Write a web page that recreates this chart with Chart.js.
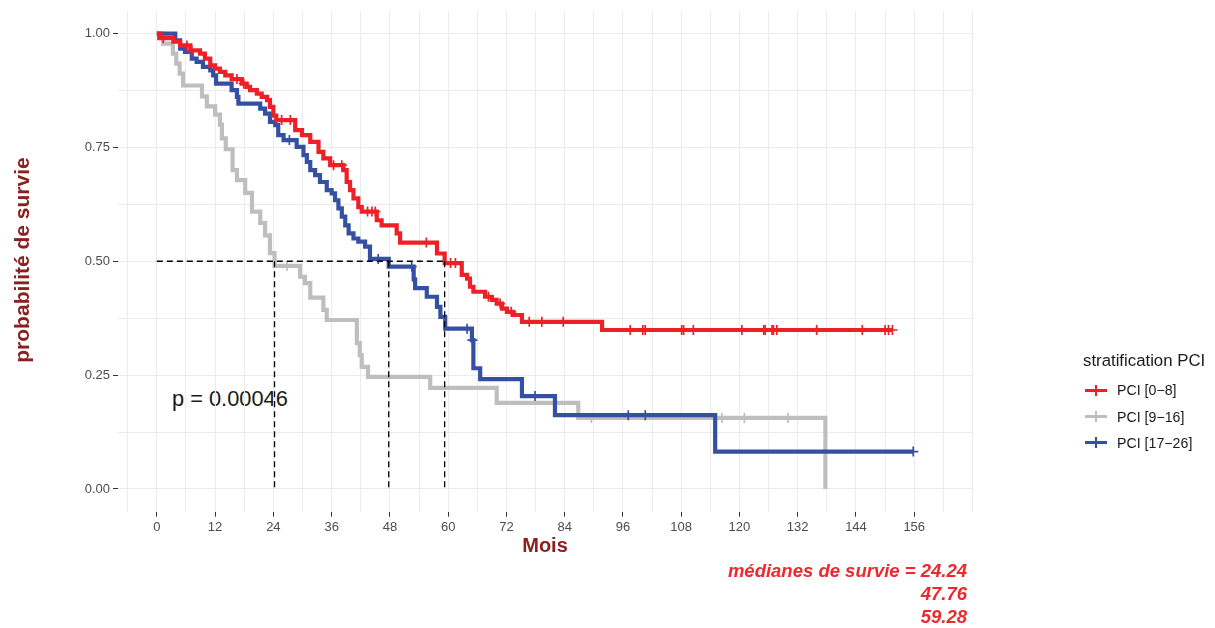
<!DOCTYPE html>
<html><head><meta charset="utf-8">
<script src="https://cdn.jsdelivr.net/npm/chart.js@4"></script>
<style>
html,body{margin:0;padding:0;background:#fff;}
#wrap{position:relative;width:1215px;height:628px;font-family:"Liberation Sans",Arial,sans-serif;overflow:hidden;}
#c{position:absolute;left:0;top:0;z-index:2;}
.abs{position:absolute;white-space:nowrap;z-index:3;}
#pval{z-index:1;left:172px;top:385px;font-size:21.8px;line-height:27px;color:#1a1a1a;}
#ytitle{left:-128px;top:249px;width:300px;text-align:center;font-size:21px;line-height:22px;font-weight:bold;color:#8B2020;transform:rotate(-90deg);transform-origin:150px 11px;}
#xtitle{left:445px;top:533px;width:200px;text-align:center;font-size:20px;line-height:24px;font-weight:bold;color:#8B2020;}
#legtitle{left:1083px;top:350px;font-size:16.8px;line-height:21px;color:#1a1a1a;}
.legitem{left:1117px;font-size:14.2px;line-height:18px;color:#1a1a1a;}
.key{position:absolute;width:22px;height:3px;left:1085px;z-index:3;}
.key i{position:absolute;left:10px;top:-4px;width:1.6px;height:11px;}
#med{right:248px;top:559px;text-align:right;font-size:18.5px;line-height:23px;font-weight:bold;font-style:italic;color:#F0282D;}
</style></head><body>
<div id="wrap">
<div class="abs" id="pval">p = 0.00046</div>
<canvas id="c" width="1215" height="628"></canvas>
<div class="abs" id="ytitle">probabilité de survie</div>
<div class="abs" id="xtitle">Mois</div>
<div class="abs" id="legtitle">stratification PCI</div>
<div id="legend"></div>
<div class="abs" id="med"></div>
</div>
<script>
// ---- data ----
const groupNames = ["PCI [0\u22128]", "PCI [9\u221216]", "PCI [17\u221226]"];
const groupColors = ["#EE2027", "#BEBEBE", "#3550A3"];

const redTimes = [0, 0.5, 3.4, 4.8, 6.9, 8.9, 9.9, 11.0, 12.0, 13.0, 14.1, 15.4, 17.5, 18.5, 19.2, 20.6, 21.6, 22.7, 23.3, 24.0, 24.6, 28.5, 29.9, 31.6, 33.3, 34.3, 35.7, 38.4, 39.1, 39.8, 40.5, 41.5, 42.2, 45.3, 46.3, 49.4, 50.1, 57.7, 59.28, 62.8, 63.9, 64.5, 65.2, 67.6, 69.0, 70.0, 71.1, 72.1, 73.4, 75.2, 91.7];
const redSurv = [1.0, 0.99, 0.982, 0.974, 0.963, 0.956, 0.945, 0.93, 0.923, 0.916, 0.908, 0.9, 0.89, 0.883, 0.876, 0.868, 0.861, 0.854, 0.839, 0.82, 0.81, 0.788, 0.777, 0.762, 0.74, 0.726, 0.711, 0.70, 0.674, 0.656, 0.638, 0.619, 0.609, 0.59, 0.579, 0.561, 0.541, 0.517, 0.496, 0.47, 0.462, 0.444, 0.433, 0.422, 0.415, 0.407, 0.396, 0.389, 0.382, 0.367, 0.349];
const redEnd = 151.5;
const redCensor = [1.3, 6.2, 7.2, 16.5, 17.9, 25.7, 27.5, 36.4, 38.1, 43.4, 44.3, 45.0, 55.5, 60.5, 61.5, 68.3, 70.7, 73.0, 76.7, 79.3, 83.7, 97.5, 100.1, 100.6, 108.1, 108.5, 110.5, 120.5, 125.0, 125.3, 126.7, 127.0, 127.7, 135.9, 145.3, 150.0, 150.7, 151.5];

const grayTimes = [0, 1.3, 3.3, 4.0, 4.7, 5.4, 9.3, 10.3, 12.0, 13.0, 13.4, 14.2, 15.6, 16.5, 18.2, 19.6, 21.3, 22.3, 23.3, 24.24, 29.5, 30.5, 31.6, 34.3, 35.0, 41.2, 41.8, 42.2, 43.5, 56.3, 70.0, 86.8, 137.7];
const graySurv = [1.0, 0.978, 0.956, 0.934, 0.912, 0.886, 0.862, 0.840, 0.822, 0.800, 0.770, 0.746, 0.700, 0.678, 0.650, 0.609, 0.584, 0.557, 0.518, 0.49, 0.466, 0.452, 0.42, 0.393, 0.371, 0.32, 0.294, 0.268, 0.246, 0.222, 0.189, 0.156, 0];
const grayEnd = 137.7;
const grayCensor = [26.8, 89.5, 116.4, 121.0, 130.0];

const blueTimes = [0, 3.8, 4.8, 5.8, 7.2, 8.2, 9.5, 11.0, 11.6, 12.2, 15.4, 16.5, 16.8, 21.3, 22.3, 23.3, 24.4, 25.0, 26.1, 28.8, 30.2, 30.9, 31.6, 32.6, 33.6, 35.0, 36.0, 36.7, 37.4, 38.1, 38.8, 39.5, 40.5, 41.5, 42.9, 43.9, 47.76, 52.9, 53.2, 55.6, 57.7, 58.4, 59.4, 64.9, 65.2, 66.6, 75.2, 82.0, 115.0];
const blueSurv = [1.0, 0.985, 0.967, 0.96, 0.945, 0.938, 0.927, 0.919, 0.908, 0.89, 0.876, 0.861, 0.846, 0.835, 0.824, 0.806, 0.799, 0.777, 0.766, 0.751, 0.733, 0.718, 0.70, 0.689, 0.674, 0.656, 0.649, 0.634, 0.616, 0.598, 0.579, 0.561, 0.55, 0.543, 0.532, 0.505, 0.488, 0.46, 0.441, 0.422, 0.40, 0.378, 0.352, 0.327, 0.265, 0.241, 0.204, 0.162, 0.082];
const blueEnd = 155.8;
const blueCensor = [27.3, 45.6, 52.5, 63.9, 65.0, 77.9, 97.1, 100.6, 155.8];

const medians = [24.24, 47.76, 59.28];
const xTickLabels = [0, 12, 24, 36, 48, 60, 72, 84, 96, 108, 120, 132, 144, 156];
const yTickLabels = [0, 0.25, 0.5, 0.75, 1];
const pValueText = "p = 0.00046";
const medianLabel = "médianes de survie = ";

// ---- build ----
function curve(times, surv, end) {
  const pts = times.map((t, i) => ({x: t, y: surv[i]}));
  const last = pts[pts.length - 1];
  if (end > last.x) pts.push({x: end, y: last.y});
  return pts;
}
function survAt(times, surv, t) {
  let s = surv[0];
  for (let i = 0; i < times.length; i++) if (times[i] <= t) s = surv[i];
  return s;
}
function censors(c, times, surv) { return c.map(t => ({x: t, y: survAt(times, surv, t)})); }

const groups = [
  {times: redTimes, surv: redSurv, end: redEnd, cens: redCensor},
  {times: grayTimes, surv: graySurv, end: grayEnd, cens: grayCensor},
  {times: blueTimes, surv: blueSurv, end: blueEnd, cens: blueCensor}
];

const datasets = [];
const dash = {type: 'line', borderColor: '#000', borderWidth: 1.3, borderDash: [6, 4], pointRadius: 0, fill: false};
datasets.push(Object.assign({}, dash, {data: [{x: 0, y: 0.5}, {x: Math.max(...medians), y: 0.5}]}));
medians.forEach(m => datasets.push(Object.assign({}, dash, {data: [{x: m, y: 0.5}, {x: m, y: 0}]})));
[0, 2, 1].forEach(g => {
  const G = groups[g];
  datasets.push({type: 'scatter', data: censors(G.cens, G.times, G.surv), pointStyle: 'cross',
    pointRadius: 5, pointBorderWidth: 1.7, borderColor: groupColors[g], backgroundColor: groupColors[g], showLine: false});
  datasets.push({type: 'line', data: curve(G.times, G.surv, G.end), stepped: true, borderColor: groupColors[g],
    borderWidth: 4.2, pointRadius: 0, fill: false, borderCapStyle: 'butt', borderJoinStyle: 'miter'});
});

Chart.defaults.font.family = '"Liberation Sans", Arial, sans-serif';
const gridColor = '#EBEBEB';
new Chart(document.getElementById('c'), {
  type: 'line',
  data: {datasets},
  options: {
    responsive: false, animation: false, devicePixelRatio: 1,
    layout: {padding: {left: 0, right: 242.5, top: 10.5, bottom: 0}},
    plugins: {legend: {display: false}, tooltip: {enabled: false}},
    scales: {
      x: {
        type: 'linear', min: -8, max: 168,
        afterFit: s => { s.height = 116.3; },
        afterBuildTicks: s => { const t = []; for (let v = -6; v <= 168; v += 6) t.push({value: v}); s.ticks = t; },
        border: {display: false},
        grid: {color: gridColor, lineWidth: 1, tickLength: 5,
          tickColor: c => xTickLabels.includes(c.tick && c.tick.value) ? '#333' : 'rgba(0,0,0,0)'},
        ticks: {padding: 3, color: '#4D4D4D', font: {size: 13}, maxRotation: 0, autoSkip: false,
          callback: v => xTickLabels.includes(v) ? String(v) : ''}
      },
      y: {
        type: 'linear', min: -0.05, max: 1.05,
        afterFit: s => { s.width = 118; },
        afterBuildTicks: s => { const t = []; for (let v = 0; v <= 1.0001; v += 0.125) t.push({value: Math.round(v * 1000) / 1000}); s.ticks = t; },
        border: {display: false},
        grid: {color: gridColor, lineWidth: 1, tickLength: 5,
          tickColor: c => yTickLabels.includes(c.tick && c.tick.value) ? '#333' : 'rgba(0,0,0,0)'},
        ticks: {padding: 3, color: '#4D4D4D', font: {size: 13}, autoSkip: false,
          callback: v => yTickLabels.includes(v) ? v.toFixed(2) : ''}
      }
    }
  }
});

// ---- text / legend ----
document.getElementById('pval').textContent = pValueText;
document.getElementById('med').innerHTML = medians.map((m, i) => (i === 0 ? medianLabel : '') + m.toFixed(2)).join('<br>');
const leg = document.getElementById('legend');
const centers = [390, 416.5, 442.5];
groupNames.forEach((n, i) => {
  const k = document.createElement('div');
  k.className = 'key'; k.style.top = (centers[i] - 1.5) + 'px'; k.style.background = groupColors[i];
  const cr = document.createElement('i'); cr.style.background = groupColors[i]; k.appendChild(cr);
  leg.appendChild(k);
  const t = document.createElement('div');
  t.className = 'abs legitem'; t.style.top = (centers[i] - 9) + 'px'; t.textContent = n;
  leg.appendChild(t);
});
</script>
</body></html>
